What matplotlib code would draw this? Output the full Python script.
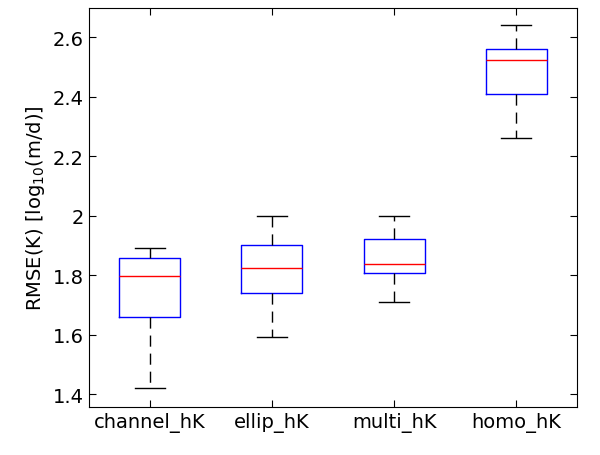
import matplotlib.pyplot as plt

labels = ['channel_hK', 'ellip_hK', 'multi_hK', 'homo_hK']
whislo = [1.421, 1.591, 1.710, 2.260]
q1 = [1.659, 1.740, 1.808, 2.409]
med = [1.799, 1.825, 1.839, 2.523]
q3 = [1.858, 1.900, 1.921, 2.559]
whishi = [1.891, 2.000, 2.000, 2.639]

stats = [dict(label=l, whislo=a, q1=b, med=c, q3=d, whishi=e, fliers=[])
         for l, a, b, c, d, e in zip(labels, whislo, q1, med, q3, whishi)]

fig = plt.figure(figsize=(6, 4.56), dpi=100)
ax = fig.add_axes([0.148, 0.105, 0.814, 0.875])
ax.bxp(stats, widths=0.5,
       boxprops=dict(color='blue', linewidth=1),
       medianprops=dict(color='red', linewidth=1),
       whiskerprops=dict(color='black', linestyle=(0, (8, 5)), linewidth=1),
       capprops=dict(color='black', linewidth=1),
       capwidths=0.25)

ax.set_xlim(0.5, 4.5)
ax.set_ylim(1.357, 2.697)
ax.set_yticks([1.4, 1.6, 1.8, 2.0, 2.2, 2.4, 2.6])
ax.set_yticklabels(['1.4', '1.6', '1.8', '2', '2.2', '2.4', '2.6'])
ax.tick_params(direction='in', top=True, right=True, labelsize=14, length=5)
ax.set_ylabel('RMSE(K) [log$_{10}$(m/d)]', fontsize=14)

fig.savefig('out.png', dpi=100)
